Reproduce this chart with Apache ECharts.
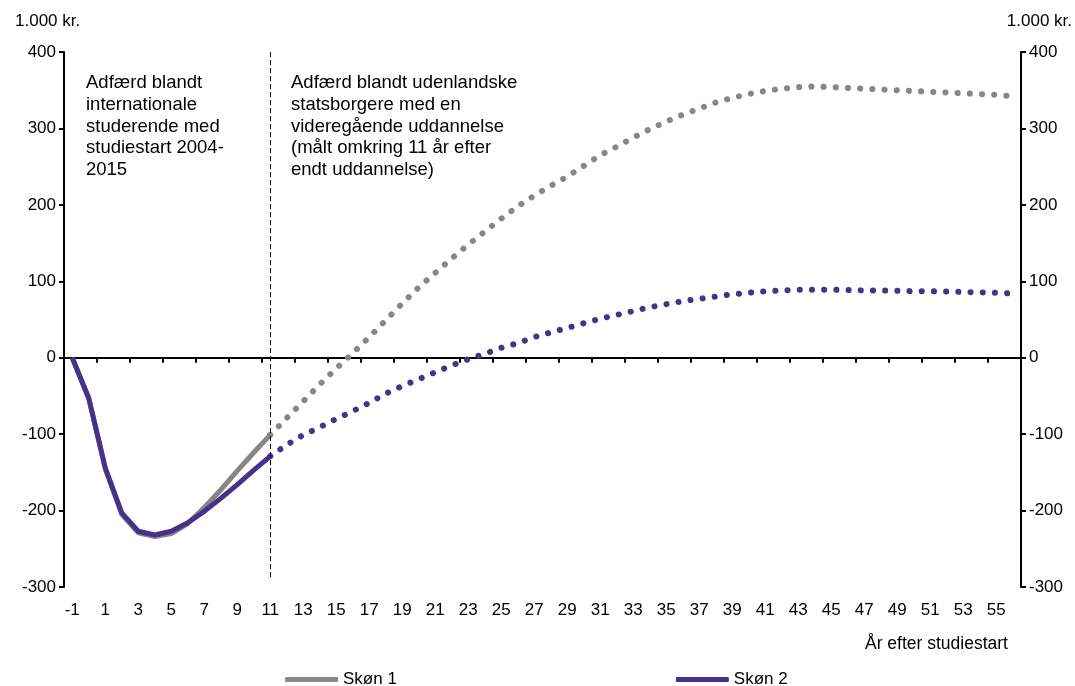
<!DOCTYPE html>
<html>
<head>
<meta charset="utf-8">
<script src="https://cdn.jsdelivr.net/npm/echarts@6/dist/echarts.min.js"></script>
<style>
  html, body { margin: 0; padding: 0; background: #fff; }
  #main { width: 1075px; height: 686px; }
</style>
</head>
<body>
<div id="main"></div>
<script>
// years after study start (-1 .. 56)
var years = [];
for (var y = -1; y <= 56; y++) years.push(String(y));

// observed part, -1 .. 11
var skon1Obs = [0, -53, -145, -205, -229, -234, -230, -217, -196, -173, -148, -124, -101];
var skon2Obs = [0, -53, -144, -203, -227, -232, -227, -216, -201, -184, -166, -147, -129];

// projected part, 11 .. 56
var skon1Proj = [-101, -79, -57, -35, -14, 6, 27, 49, 71, 92, 111, 130, 148, 165, 182, 198, 212, 225,
  237, 251, 265, 276, 288, 299, 309, 318, 326, 334, 340, 345, 349, 352, 354, 355, 354, 353, 352,
  351, 350, 349, 348, 347, 346, 345, 344, 342];
var skon2Proj = [-129, -114, -101, -91, -80, -70, -59, -47, -37, -28, -19, -10, -2, 5, 13, 19, 27, 33,
  39, 45, 51, 56, 61, 66, 70, 74, 77, 80, 83, 85, 87, 88, 89, 89, 89, 88.5, 88, 88, 87.5, 87, 87,
  86.5, 86, 85.5, 85, 84];

var yTicks = { min: -300, max: 400, step: 100 };

var grey = '#878787';
var purple = '#463289';
var font = '"Liberation Sans", Arial, sans-serif';

// pad projection with nulls before year 11
function proj(arr) {
  var out = [];
  for (var i = 0; i < 12; i++) out.push(null);
  return out.concat(arr);
}

var dotted = { width: 6, type: [0.1, 12.1], cap: 'round' };

var yAxisBase = function (pos) {
  return {
    type: 'value',
    position: pos,
    min: yTicks.min,
    max: yTicks.max,
    interval: yTicks.step,
    splitLine: { show: false },
    axisLine: { show: true, lineStyle: { color: '#000', width: 2 } },
    axisTick: { show: true, length: 5, lineStyle: { color: '#000', width: 2 } },
    axisLabel: { color: '#000', fontSize: 17, fontFamily: font, margin: 8 }
  };
};

var chart = echarts.init(document.getElementById('main'));
chart.setOption({
  animation: false,
  grid: { left: 64, right: 54, top: 52, bottom: 99 },
  legend: {
    data: ['Skøn 1', 'Skøn 2'],
    left: 280,
    top: 666,
    icon: 'roundRect',
    itemWidth: 53,
    itemHeight: 5,
    itemGap: 279,
    textStyle: { color: '#000', fontSize: 17, fontFamily: font }
  },
  xAxis: [
    {
      type: 'category',
      data: years,
      position: 'bottom',
      axisLine: { show: false, onZero: false },
      axisTick: { show: false },
      axisLabel: { interval: 1, color: '#000', fontSize: 17, fontFamily: font, margin: 15 }
    },
    {
      // line through zero with ticks
      type: 'category',
      data: years,
      position: 'top',
      axisLine: { show: true, onZero: true, lineStyle: { color: '#000', width: 2 } },
      axisTick: { show: true, inside: true, length: 5, lineStyle: { color: '#000', width: 2 } },
      axisLabel: { show: false }
    }
  ],
  yAxis: [yAxisBase('left'), yAxisBase('right')],
  graphic: [
    { type: 'text', left: 15, top: 13, style: { text: '1.000 kr.', font: '17px ' + font, fill: '#000' } },
    { type: 'text', right: 3, top: 13, style: { text: '1.000 kr.', font: '17px ' + font, fill: '#000' } },
    { type: 'text', left: 865, top: 635, style: { text: 'År efter studiestart', font: '17.5px ' + font, fill: '#000' } },
    {
      type: 'text', left: 86, top: 72,
      style: {
        text: 'Adfærd blandt\ninternationale\nstuderende med\nstudiestart 2004-\n2015',
        font: '18.5px ' + font, lineHeight: 21.8, fill: '#000'
      }
    },
    {
      type: 'text', left: 291, top: 72,
      style: {
        text: 'Adfærd blandt udenlandske\nstatsborgere med en\nvideregående uddannelse\n(målt omkring 11 år efter\nendt uddannelse)',
        font: '18.5px ' + font, lineHeight: 21.8, fill: '#000'
      }
    }
  ],
  series: [
    {
      name: 'Skøn 1', type: 'line', data: skon1Obs, color: grey,
      symbol: 'none', lineStyle: { width: 5, color: grey },
      markLine: {
        silent: true, symbol: 'none', label: { show: false },
        lineStyle: { color: '#000', width: 1, type: [5, 3] },
        data: [[{ xAxis: '11', yAxis: 400 }, { xAxis: '11', yAxis: -288 }]]
      }
    },
    {
      name: 'Skøn 2', type: 'line', data: skon2Obs, color: purple,
      symbol: 'none', lineStyle: { width: 5, color: purple }
    },
    {
      name: 'Skøn 1', type: 'line', data: proj(skon1Proj), color: grey,
      symbol: 'none', lineStyle: Object.assign({ color: grey }, dotted)
    },
    {
      name: 'Skøn 2', type: 'line', data: proj(skon2Proj), color: purple,
      symbol: 'none', lineStyle: Object.assign({ color: purple }, dotted)
    }
  ]
});
</script>
</body>
</html>
